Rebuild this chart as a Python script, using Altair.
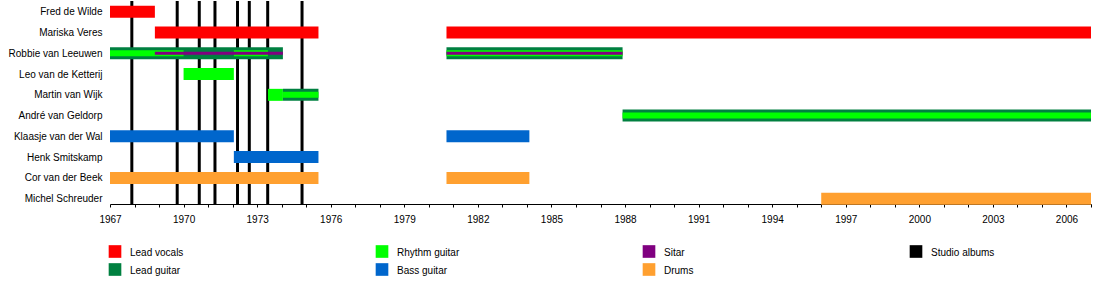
import altair as alt
import pandas as pd

# ---- data -------------------------------------------------------------
members = ["Fred de Wilde", "Mariska Veres", "Robbie van Leeuwen", "Leo van de Ketterij",
           "Martin van Wijk", "André van Geldorp", "Klaasje van der Wal", "Henk Smitskamp",
           "Cor van der Beek", "Michel Schreuder"]

roles = ["Lead vocals", "Rhythm guitar", "Sitar", "Studio albums",
         "Lead guitar", "Bass guitar", "Drums"]
role_colors = ["#ff0000", "#00ff00", "#800080", "#000000",
               "#008040", "#0066cc", "#ffa030"]

# full-height bars
full_member = ["Fred de Wilde", "Mariska Veres", "Mariska Veres", "Robbie van Leeuwen",
               "Robbie van Leeuwen", "Leo van de Ketterij", "Martin van Wijk", "Martin van Wijk",
               "André van Geldorp", "Klaasje van der Wal", "Klaasje van der Wal", "Henk Smitskamp",
               "Cor van der Beek", "Cor van der Beek", "Michel Schreuder"]
full_start = [1967, 1968.83, 1980.72, 1967, 1980.72, 1970, 1973.44, 1974.05,
              1987.9, 1967, 1980.72, 1972.05, 1967, 1980.72, 1996]
full_end = [1968.83, 1975.5, 2007, 1974.05, 1987.9, 1972.05, 1974.05, 1975.5,
            2007, 1972.05, 1984.1, 1975.5, 1975.5, 1984.1, 2007]
full_role = ["Lead vocals", "Lead vocals", "Lead vocals", "Lead guitar", "Lead guitar",
             "Rhythm guitar", "Rhythm guitar", "Lead guitar", "Lead guitar", "Bass guitar",
             "Bass guitar", "Bass guitar", "Drums", "Drums", "Drums"]

# inner rhythm-guitar stripes
rhy_member = ["Robbie van Leeuwen", "Robbie van Leeuwen", "Robbie van Leeuwen",
              "Martin van Wijk", "André van Geldorp"]
rhy_start = [1967, 1972.05, 1980.72, 1974.05, 1987.9]
rhy_end = [1970, 1973.44, 1987.9, 1975.5, 2007]

# inner sitar stripes
sit_member = ["Robbie van Leeuwen", "Robbie van Leeuwen"]
sit_start = [1968.83, 1980.72]
sit_end = [1974.05, 1987.9]

# studio albums
album_years = [1967.89, 1969.74, 1970.64, 1971.28, 1972.2, 1972.68, 1973.43, 1974.83]

# legend layout (column / row of each role)
legend_col = [0, 1, 2, 3, 0, 1, 2]
legend_row = [0, 0, 0, 0, 1, 1, 1]

year_ticks = list(range(1967, 2008))

# ---- geometry ---------------------------------------------------------
W, H = 981, 203
FONT = "Liberation Sans"

full_df = pd.DataFrame({"member": full_member, "start": full_start, "end": full_end, "role": full_role})
full_df["row"] = full_df["member"].map(members.index)
rhy_df = pd.DataFrame({"member": rhy_member, "start": rhy_start, "end": rhy_end, "role": "Rhythm guitar"})
rhy_df["row"] = rhy_df["member"].map(members.index)
sit_df = pd.DataFrame({"member": sit_member, "start": sit_start, "end": sit_end, "role": "Sitar"})
sit_df["row"] = sit_df["member"].map(members.index)
alb_df = pd.DataFrame({"year": album_years})
leg_df = pd.DataFrame({"role": roles, "col": legend_col, "lrow": legend_row})

xscale = alt.Scale(domain=[1967, 2007], nice=False, zero=False)
yscale = alt.Scale(domain=[-0.52, 9.258], reverse=True, nice=False, zero=False)
cscale = alt.Scale(domain=roles, range=role_colors)

name_expr = "[" + ",".join("'" + m + "'" for m in members) + "][datum.value]"
year_expr = "(datum.value - 1967) % 3 == 0 ? datum.value : ''"

x_axis = alt.Axis(values=year_ticks, labelExpr=year_expr, tickSize=3, labelPadding=7,
                  grid=False, domainColor="#000", tickColor="#000", labelColor="#000",
                  labelFont=FONT, labelFontSize=10, title=None, labelFlush=False)
y_axis = alt.Axis(values=list(range(len(members))), labelExpr=name_expr, ticks=False,
                  domain=False, grid=False, labelPadding=8, labelColor="#000",
                  labelFont=FONT, labelFontSize=10, title=None)

albums = alt.Chart(alb_df).mark_rule(color="#000", strokeWidth=3).encode(
    x=alt.X("year:Q", scale=xscale, axis=None)
)

full = alt.Chart(full_df).mark_rule(strokeWidth=12, strokeCap="butt").encode(
    x=alt.X("start:Q", scale=xscale, axis=x_axis),
    x2="end:Q",
    y=alt.Y("row:Q", scale=yscale, axis=y_axis),
    color=alt.Color("role:N", scale=cscale, legend=None),
)

rhythm = alt.Chart(rhy_df).mark_rule(strokeWidth=6, strokeCap="butt").encode(
    x=alt.X("start:Q", scale=xscale, axis=None),
    x2="end:Q",
    y=alt.Y("row:Q", scale=yscale, axis=None),
    color=alt.Color("role:N", scale=cscale, legend=None),
)

sitar = alt.Chart(sit_df).mark_rule(strokeWidth=3, strokeCap="butt").encode(
    x=alt.X("start:Q", scale=xscale, axis=None),
    x2="end:Q",
    y=alt.Y("row:Q", scale=yscale, axis=None),
    color=alt.Color("role:N", scale=cscale, legend=None),
)

lx = alt.Scale(domain=[0, 3], range=[5, 806])
ly = alt.Scale(domain=[0, 1], range=[250.5, 268.5])

leg_sw = alt.Chart(leg_df).mark_square(size=160, opacity=1, filled=True).encode(
    x=alt.X("col:Q", scale=lx, axis=None),
    y=alt.Y("lrow:Q", scale=ly, axis=None),
    color=alt.Color("role:N", scale=cscale, legend=None),
)

leg_txt = alt.Chart(leg_df).mark_text(align="left", baseline="middle", dx=15, dy=1,
                                      font=FONT, fontSize=10, color="#000").encode(
    x=alt.X("col:Q", scale=lx, axis=None),
    y=alt.Y("lrow:Q", scale=ly, axis=None),
    text="role:N",
)

chart = alt.layer(albums, full, rhythm, sitar, leg_sw, leg_txt).resolve_scale(
    x="independent", y="independent"
).properties(
    width=W, height=H,
    autosize=alt.AutoSizeParams(type="none"),
    padding={"left": 110, "top": 1, "right": 9, "bottom": 99},
    background="white",
).configure_view(stroke=None)

chart.save("out.html", embed_options={"renderer": "svg", "actions": False})
